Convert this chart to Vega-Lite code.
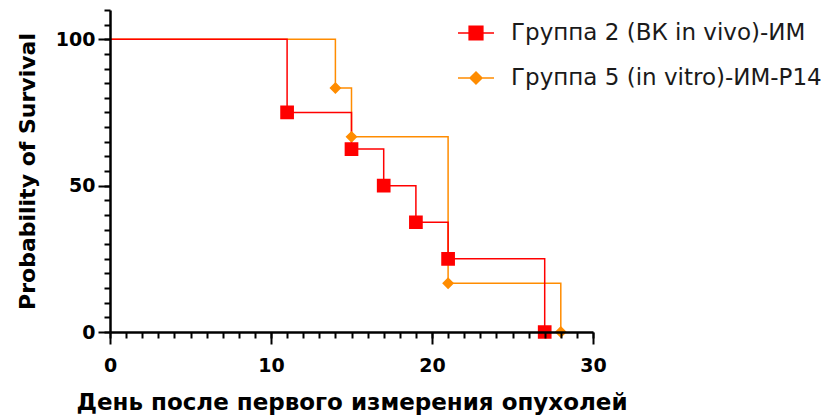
{
  "$schema": "https://vega.github.io/schema/vega-lite/v6.json",
  "width": 483,
  "height": 322,
  "autosize": {"type": "none"},
  "padding": {"left": 110, "top": 10, "right": 240, "bottom": 83},
  "background": "white",
  "config": {
    "view": {"stroke": null},
    "font": "DejaVu Sans"
  },
  "data": {
    "values": [
      {"group": "Группа 5 (in vitro)-ИМ-P14", "day": 0, "survival": 100},
      {"group": "Группа 5 (in vitro)-ИМ-P14", "day": 14, "survival": 83.33},
      {"group": "Группа 5 (in vitro)-ИМ-P14", "day": 15, "survival": 66.67},
      {"group": "Группа 5 (in vitro)-ИМ-P14", "day": 21, "survival": 16.67},
      {"group": "Группа 5 (in vitro)-ИМ-P14", "day": 28, "survival": 0},
      {"group": "Группа 2 (ВК in vivo)-ИМ", "day": 0, "survival": 100},
      {"group": "Группа 2 (ВК in vivo)-ИМ", "day": 11, "survival": 75},
      {"group": "Группа 2 (ВК in vivo)-ИМ", "day": 15, "survival": 62.5},
      {"group": "Группа 2 (ВК in vivo)-ИМ", "day": 17, "survival": 50},
      {"group": "Группа 2 (ВК in vivo)-ИМ", "day": 19, "survival": 37.5},
      {"group": "Группа 2 (ВК in vivo)-ИМ", "day": 21, "survival": 25},
      {"group": "Группа 2 (ВК in vivo)-ИМ", "day": 27, "survival": 0}
    ]
  },
  "resolve": {"axis": {"x": "independent", "y": "independent"}},
  "layer": [
    {
      "mark": {"type": "line", "interpolate": "step-after", "strokeWidth": 1.5},
      "encoding": {
        "x": {
          "field": "day",
          "type": "quantitative",
          "scale": {"domain": [0, 30], "nice": false, "zero": false},
          "axis": {
            "orient": "bottom",
            "zindex": 3,
            "title": "День после первого измерения опухолей",
            "values": [0, 10, 20, 30],
            "ticks": true,
            "tickSize": 12,
            "tickWidth": 2,
            "tickColor": "black",
            "tickOpacity": 1,
            "domainColor": "black",
            "domainWidth": 2.5,
            "grid": false,
            "labelFontSize": 19,
            "labelFontWeight": "bold",
            "labelColor": "black",
            "labelPadding": 12,
            "labelFlush": false,
            "labelOverlap": false,
            "titleFontSize": 23,
            "titleFontWeight": "bold",
            "titleColor": "black",
            "titlePadding": 16,
            "encode": {
              "ticks": {
                "update": {
                  "stroke": {"value": "black"},
                  "strokeWidth": {"value": 2},
                  "strokeOpacity": {"value": 1},
                  "opacity": {"value": 1},
                  "y": {"value": 0},
                  "y2": {"value": 12}
                }
              }
            }
          }
        },
        "y": {
          "field": "survival",
          "type": "quantitative",
          "scale": {"domain": [0, 110], "nice": false},
          "axis": {
            "orient": "left",
            "zindex": 3,
            "title": "Probability of Survival",
            "values": [0, 50, 100],
            "ticks": true,
            "tickSize": 12,
            "tickWidth": 2,
            "tickColor": "black",
            "tickOpacity": 1,
            "domainColor": "black",
            "domainWidth": 2.5,
            "grid": false,
            "labelFontSize": 19,
            "labelFontWeight": "bold",
            "labelColor": "black",
            "labelPadding": 3,
            "labelFlush": false,
            "labelOverlap": false,
            "titleFontSize": 22,
            "titleFontWeight": "bold",
            "titleColor": "black",
            "titlePadding": 16,
            "encode": {
              "ticks": {
                "update": {
                  "stroke": {"value": "black"},
                  "strokeWidth": {"value": 2},
                  "strokeOpacity": {"value": 1},
                  "opacity": {"value": 1},
                  "x": {"value": 0},
                  "x2": {"value": -12}
                }
              }
            }
          }
        },
        "color": {
          "field": "group",
          "type": "nominal",
          "scale": {
            "domain": ["Группа 2 (ВК in vivo)-ИМ", "Группа 5 (in vitro)-ИМ-P14"],
            "range": ["#FF0000", "#FF8C00"]
          },
          "legend": {
            "orient": "none",
            "legendX": 347,
            "legendY": 4,
            "title": null,
            "padding": 0,
            "labelFont": "DejaVu Sans",
            "labelFontSize": 23,
            "labelColor": "#1a1a1a",
            "labelOffset": 16,
            "labelLimit": 0,
            "symbolSize": 1300,
            "symbolStrokeWidth": 1.5,
            "symbolOpacity": 1,
            "rowPadding": 14,
            "encode": {
              "symbols": {
                "update": {
                  "stroke": {"scale": "color", "field": "value"},
                  "strokeWidth": {"value": 1.5}
                }
              }
            }
          }
        }
      }
    },
    {
      "transform": [{"filter": "datum.day > 0"}],
      "mark": {"type": "point", "filled": true, "opacity": 1, "strokeWidth": 0, "size": 1300},
      "encoding": {
        "x": {
          "field": "day",
          "type": "quantitative",
          "axis": {
            "orient": "bottom",
            "zindex": 3,
            "title": null,
            "values": [0,1,2,3,4,5,6,7,8,9,10,11,12,13,14,15,16,17,18,19,20,21,22,23,24,25,26,27,28,29,30],
            "labels": false,
            "domain": false,
            "ticks": true,
            "tickSize": 6,
            "tickWidth": 2,
            "tickColor": "black",
            "tickOpacity": 1,
            "grid": false,
            "encode": {
              "ticks": {
                "update": {
                  "stroke": {"value": "black"},
                  "strokeWidth": {"value": 2},
                  "strokeOpacity": {"value": 1},
                  "opacity": {"value": 1},
                  "y": {"value": 0},
                  "y2": {"value": 6}
                }
              }
            }
          }
        },
        "y": {
          "field": "survival",
          "type": "quantitative",
          "axis": {
            "orient": "left",
            "zindex": 3,
            "title": null,
            "values": [0,5,10,15,20,25,30,35,40,45,50,55,60,65,70,75,80,85,90,95,100,105,110],
            "labels": false,
            "domain": false,
            "ticks": true,
            "tickSize": 6,
            "tickWidth": 2,
            "tickColor": "black",
            "tickOpacity": 1,
            "grid": false,
            "encode": {
              "ticks": {
                "update": {
                  "stroke": {"value": "black"},
                  "strokeWidth": {"value": 2},
                  "strokeOpacity": {"value": 1},
                  "opacity": {"value": 1},
                  "x": {"value": 0},
                  "x2": {"value": -6}
                }
              }
            }
          }
        },
        "color": {
          "field": "group",
          "type": "nominal",
          "legend": {
            "orient": "none",
            "legendX": 347,
            "legendY": 4,
            "title": null,
            "padding": 0,
            "labelFont": "DejaVu Sans",
            "labelFontSize": 23,
            "labelColor": "#1a1a1a",
            "labelOffset": 16,
            "labelLimit": 0,
            "symbolSize": 1300,
            "symbolStrokeWidth": 1.5,
            "symbolOpacity": 1,
            "rowPadding": 14,
            "encode": {
              "symbols": {
                "update": {
                  "stroke": {"scale": "color", "field": "value"},
                  "strokeWidth": {"value": 1.5}
                }
              }
            }
          }
        },
        "shape": {
          "field": "group",
          "type": "nominal",
          "scale": {
            "domain": ["Группа 2 (ВК in vivo)-ИМ", "Группа 5 (in vitro)-ИМ-P14"],
            "range": ["M-1,0H1M-0.38,-0.38H0.38V0.38H-0.38Z", "M-1,0H1M0,-0.33L0.33,0L0,0.33L-0.33,0Z"]
          },
          "legend": null
        }
      }
    }
  ]
}
